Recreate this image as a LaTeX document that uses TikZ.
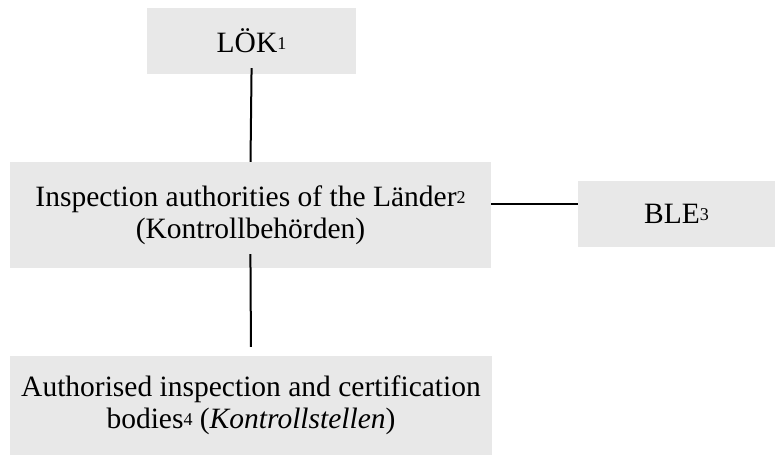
\documentclass[tikz,border=0pt]{standalone}
\usepackage{fontspec}
\setmainfont{Liberation Serif}
\newcommand{\renvoi}[1]{\raisebox{3pt}{\fontsize{18}{18}\selectfont #1}}
\begin{document}
\begin{tikzpicture}[x=1pt,y=-1pt,
  boite/.style={fill=gray!18,inner sep=0pt,align=center,font=\fontsize{29.5}{32}\selectfont},
  lien/.style={line width=2pt}]

  \useasboundingbox (0,0) rectangle (775,456);

\node[boite,minimum width=209pt,minimum height=66pt] (lok) at (251.5,41) {LÖK\renvoi{1}};
\node[boite,minimum width=481pt,minimum height=106pt] (laender) at (250.5,215)
  {Inspection authorities of the Länder\renvoi{2}\\(Kontrollbehörden)};
\node[boite,minimum width=197pt,minimum height=66pt] (ble) at (676.5,214) {BLE\renvoi{3}};
\node[boite,minimum width=482pt,minimum height=99pt] (stellen) at (251,405.5)
  {Authorised inspection and certification\\bodies\renvoi{4} (\textit{Kontrollstellen})};

% LÖK - Länder
\draw[lien,shorten <=-6pt] (lok.south) -- (laender.north);

% Länder - BLE
\draw[lien] ([yshift=11pt]laender.east) -- ([yshift=10pt]ble.west);

% Länder - Kontrollstellen
\draw[lien,shorten <=-14pt,shorten >=9pt] (laender.south) -- (stellen.north);

\end{tikzpicture}
\end{document}
